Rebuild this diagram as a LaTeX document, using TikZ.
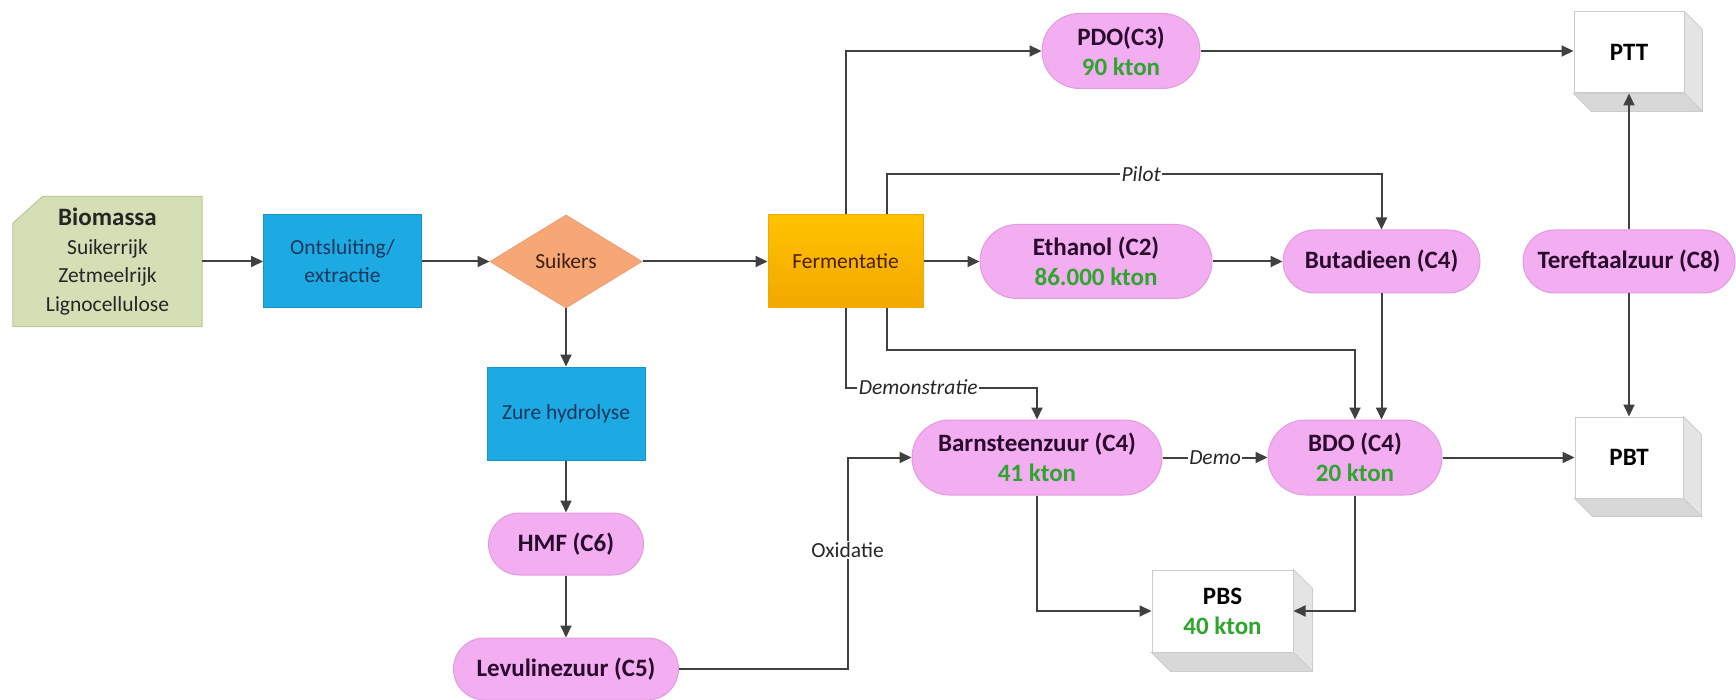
\documentclass[tikz,border=0pt]{standalone}
\usepackage{fontspec}
\setmainfont{Carlito}
\usetikzlibrary{arrows.meta,shapes.geometric,shapes.misc,calc}

\definecolor{linec}{HTML}{404040}
\definecolor{pinkf}{HTML}{F2AEF0}
\definecolor{pinkd}{HTML}{E29BE0}
\definecolor{bluef}{HTML}{1DA9E2}
\definecolor{blued}{HTML}{1893C9}
\definecolor{orangef}{HTML}{F6A775}
\definecolor{oranged}{HTML}{EFA07A}
\definecolor{goldt}{HTML}{FFC200}
\definecolor{goldb}{HTML}{F2A800}
\definecolor{biof}{HTML}{D4DFB5}
\definecolor{biod}{HTML}{BCC895}
\definecolor{greentxt}{HTML}{2EA62E}
\definecolor{darktxt}{HTML}{2A0A2E}
\definecolor{navytxt}{HTML}{17375E}
\definecolor{browntxt}{HTML}{3D2010}
\definecolor{fermtxt}{HTML}{4A1E00}
\definecolor{sidegray}{HTML}{E4E4E4}
\definecolor{botgray}{HTML}{D8D8D8}
\definecolor{edgegray}{HTML}{CCCCCC}

\tikzset{
  bigfont/.style={font=\fontsize{25}{30}\selectfont\bfseries},
  regfont/.style={font=\fontsize{21.5}{28}\selectfont},
  pinknode/.style={rounded rectangle, fill=pinkf, draw=pinkd, line width=1pt,
    bigfont, text=darktxt, align=center, inner sep=0pt},
  bluebox/.style={rectangle, fill=bluef, draw=blued, line width=1pt, regfont,
    text=navytxt, align=center, inner sep=0pt, minimum width=158pt, minimum height=93pt},
  prodbox/.style={rectangle, fill=white, draw=edgegray, line width=1pt, bigfont,
    text=black, align=center, inner sep=0pt},
  conn/.style={draw=linec, line width=2pt, -{Triangle[length=12pt,width=11pt]}},
  lab/.style={fill=white, inner sep=1.5pt, font=\fontsize{21.5}{26}\selectfont\itshape, text=black!85},
  labr/.style={fill=white, inner sep=1.5pt, font=\fontsize{21.5}{26}\selectfont, text=black!85},
  kton/.style={text=greentxt}
}

\newcommand\myextrude[2]{%
  \fill[sidegray, draw=edgegray, line width=0.8pt] (#1.north east) -- ++(#2,#2) -- ($(#1.south east)+(#2,#2)$) -- (#1.south east) -- cycle;
  \fill[botgray, draw=edgegray, line width=0.8pt] (#1.south west) -- ++(#2,#2) -- ($(#1.south east)+(#2,#2)$) -- (#1.south east) -- cycle;}

\begin{document}
\begin{tikzpicture}[x=1pt,y=-1pt]
\useasboundingbox (0,0) rectangle (1736,700);

% Biomassa
\path node[minimum width=189pt, minimum height=130pt, inner sep=0pt] (bio) at (107.5,261.5) {};
\filldraw[fill=biof, draw=biod, line width=1pt] (bio.south west) -- (bio.south east) -- (bio.north east)
  -- ($(bio.north west)+(30,0)$) -- ($(bio.north west)+(0,27)$) -- cycle;
\node[align=center, font=\fontsize{21.5}{28.5}\selectfont, text=black!85] (biotext) at (bio)
  {{\fontsize{25}{28.5}\selectfont\bfseries Biomassa}\\Suikerrijk\\Zetmeelrijk\\Lignocellulose};

% process boxes
\node[bluebox] (ont) at (342.5,261.5) {Ontsluiting/\\extractie};
\node[diamond, fill=orangef, draw=oranged, line width=1pt, minimum width=152pt, minimum height=93pt,
  inner sep=0pt, shape aspect=1.6, regfont, text=browntxt] (suik) at (566,261.5) {Suikers};
\node[rectangle, top color=goldt, bottom color=goldb, draw=goldb, line width=1pt, minimum width=155pt,
  minimum height=93pt, inner sep=0pt, regfont, text=fermtxt] (ferm) at (845.5,261.5) {Fermentatie};
\node[bluebox] (zure) at (566,413.5) {Zure hydrolyse};

% pink nodes
\node[pinknode, minimum width=155pt, minimum height=62pt] (hmf) at (566,544) {HMF (C6)};
\node[pinknode, minimum width=225pt, minimum height=62pt] (lev) at (566,669) {Levulinezuur (C5)};
\node[pinknode, minimum width=158pt, minimum height=75pt] (pdo) at (1121,51) {PDO(C3)\\{\color{greentxt}90 kton}};
\node[pinknode, minimum width=232pt, minimum height=74pt] (eth) at (1096,261.5) {Ethanol (C2)\\{\color{greentxt}86.000 kton}};
\node[pinknode, minimum width=197pt, minimum height=63pt] (but) at (1381.5,261.5) {Butadieen (C4)};
\node[pinknode, minimum width=212pt, minimum height=63pt] (ter) at (1629,261.5) {Tereftaalzuur (C8)};
\node[pinknode, minimum width=250pt, minimum height=75pt] (barn) at (1037,457.5) {Barnsteenzuur (C4)\\{\color{greentxt}41 kton}};
\node[pinknode, minimum width=174pt, minimum height=75pt] (bdo) at (1355,457.5) {BDO (C4)\\{\color{greentxt}20 kton}};

% product boxes
\node[prodbox, minimum width=110pt, minimum height=81pt] (ptt) at (1629,52.5) {PTT};
\node[prodbox, minimum width=108pt, minimum height=81pt] (pbt) at (1629,457.5) {PBT};
\node[prodbox, minimum width=141pt, minimum height=82pt] (pbs) at (1222.5,611) {PBS\\{\color{greentxt}40 kton}};
\myextrude{ptt}{18}
\myextrude{pbt}{18}
\myextrude{pbs}{19}

% connectors
\draw[conn] (bio.east) -- (ont.west);
\draw[conn] (ont.east) -- (suik.west);
\draw[conn] (suik.east) -- (ferm.west);
\draw[conn] (suik.south) -- (zure.north);
\draw[conn] (zure.south) -- (hmf.north);
\draw[conn] (hmf.south) -- (lev.north);
\draw[conn] (ferm.east) -- (eth.west);
\draw[conn] (eth.east) -- (but.west);
\draw[conn] (ferm.north) |- (pdo.west);
\draw[conn] ($(ferm.north)+(41.5,0)$) |- node[lab, pos=0.757] {Pilot} ($(but.north)+(0,-55)$) -- (but.north);
\draw[conn] (ferm.south) |- node[lab, pos=0.69] {Demonstratie} ($(barn.north)+(0,-32)$) -- (barn.north);
\draw[conn] ($(ferm.south)+(41.5,0)$) |- ($(bdo.north)+(0,-70)$) -- (bdo.north);
\draw[conn] (but.south) -- (but.south |- bdo.north);
\draw[conn] (barn.east) -- node[lab] {Demo} (bdo.west);
\draw[conn] (bdo.east) -- (pbt.west);
\draw[conn] (pdo.east) -- (pdo.east -| ptt.west);
\draw[conn] (ter.north) -- (ptt.south);
\draw[conn] (ter.south) -- (pbt.north);
\draw[conn] (lev.east) -- ($(lev.east -| barn.west)+(-64,0)$) |- node[labr, pos=0.281] {Oxidatie} (barn.west);
\draw[conn] (barn.south) |- (pbs.west);
\draw[conn] (bdo.south) |- (pbs.east);
\end{tikzpicture}
\end{document}
